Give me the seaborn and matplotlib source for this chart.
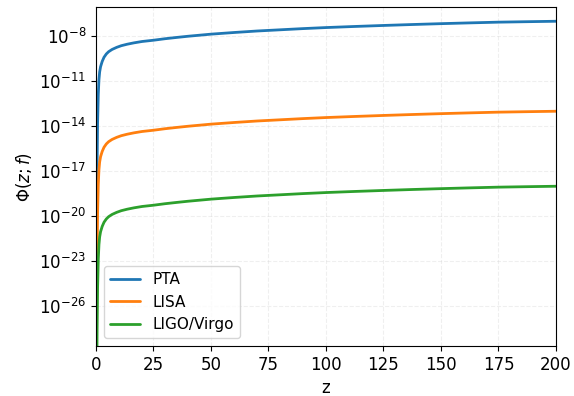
import numpy as np
import pandas as pd
import matplotlib
matplotlib.use("Agg")
import matplotlib.pyplot as plt
import matplotlib.ticker as mticker
import seaborn as sns

# redshift samples and log10(Phi)
z = [0.1, 0.3, 0.5, 0.7, 1.0, 1.3, 1.6, 2.0, 2.7, 3.5, 4.5, 5.5, 7.0, 9.0, 11.0,
     13.6, 16.5, 20.0, 25.0, 30.0, 35.0, 40.0, 45.0, 50.0, 60.0, 70.0, 80.0, 90.0,
     100.0, 112.0, 125.0, 137.0, 150.0, 162.0, 175.0, 187.0, 200.0]
log_pta = [-30.0, -20.5, -16.5, -13.8, -11.9, -10.9, -10.4, -10.05, -9.7, -9.42,
           -9.2, -9.05, -8.9, -8.76, -8.65, -8.55, -8.46, -8.37, -8.285, -8.185,
           -8.1, -8.02, -7.95, -7.88, -7.77, -7.67, -7.59, -7.51, -7.44, -7.37,
           -7.3, -7.24, -7.18, -7.13, -7.08, -7.05, -7.02]
log_lisa = [-36.0, -26.5, -22.5, -19.8, -17.9, -16.9, -16.4, -16.05, -15.7, -15.42,
            -15.2, -15.05, -14.9, -14.76, -14.65, -14.55, -14.46, -14.37, -14.285,
            -14.185, -14.1, -14.02, -13.95, -13.88, -13.77, -13.67, -13.59, -13.51,
            -13.44, -13.37, -13.3, -13.24, -13.18, -13.13, -13.08, -13.05, -13.02]
log_ligo = [-41.0, -31.5, -27.5, -24.8, -22.9, -21.9, -21.4, -21.05, -20.7, -20.42,
            -20.2, -20.05, -19.9, -19.76, -19.65, -19.55, -19.46, -19.37, -19.285,
            -19.185, -19.1, -19.02, -18.95, -18.88, -18.77, -18.67, -18.59, -18.51,
            -18.44, -18.37, -18.3, -18.24, -18.18, -18.13, -18.08, -18.05, -18.02]
labels = ["PTA", "LISA", "LIGO/Virgo"]
series = [log_pta, log_lisa, log_ligo]
colors = ["#1f77b4", "#ff7f0e", "#2ca02c"]
ytick_exp = [-26, -23, -20, -17, -14, -11, -8]

sns.set_style("ticks", {"text.color": "black", "axes.labelcolor": "black",
                        "xtick.color": "black", "ytick.color": "black",
                        "axes.edgecolor": "black"})
plt.rcParams["font.family"] = ["DejaVu Sans"]

fig = plt.figure(figsize=(5.74, 3.96), dpi=100)
ax = fig.add_axes([0.1672, 0.1263, 0.8014, 0.856])

for lab, vals, c in zip(labels, series, colors):
    df = pd.DataFrame({"z": z, "phi": 10.0 ** np.array(vals)})
    sns.lineplot(data=df, x="z", y="phi", ax=ax, color=c, linewidth=2, label=lab)

ax.set_yscale("log")
ax.set_xlim(0, 200)
ax.set_ylim(10 ** -28.67, 10 ** -6.07)
ax.set_yticks([10.0 ** e for e in ytick_exp])
ax.yaxis.set_minor_locator(mticker.NullLocator())
ax.set_xticks([0, 25, 50, 75, 100, 125, 150, 175, 200])
ax.tick_params(labelsize=12)
ax.set_xlabel("z", fontsize=12)
ax.set_ylabel(r"$\Phi(z; f)$", fontsize=12)
ax.grid(True, linestyle="--", alpha=0.3)
ax.legend(loc="lower left", fontsize=11)

plt.savefig("out.png", dpi=100)
plt.close()
